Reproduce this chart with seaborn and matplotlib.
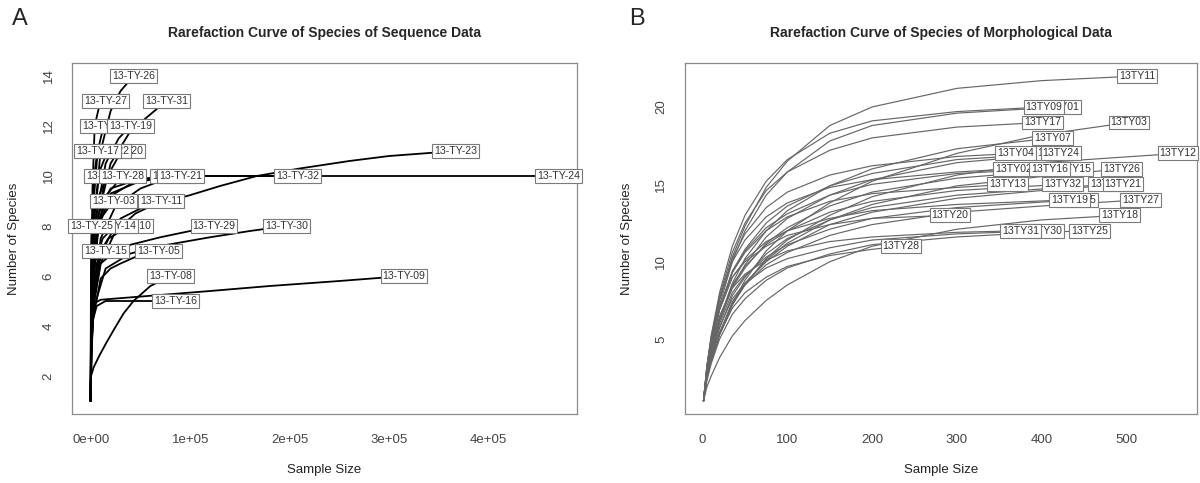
import matplotlib
matplotlib.use("Agg")
import matplotlib.pyplot as plt
import numpy as np
import pandas as pd
import seaborn as sns

# ---------------- Panel A: sequence data ----------------
seq_labels = ["13-TY-26", "13-TY-27", "13-TY-31", "13-TY-18", "13-TY-19",
              "13-TY-20", "13-TY-22", "13-TY-17", "13-TY-13", "13-TY-28",
              "13-TY-01", "13-TY-21", "13-TY-32", "13-TY-24", "13-TY-23",
              "13-TY-03", "13-TY-11", "13-TY-10", "13-TY-14", "13-TY-25",
              "13-TY-29", "13-TY-30", "13-TY-15", "13-TY-05", "13-TY-08",
              "13-TY-09", "13-TY-16"]
seq_sizes = [
    [1, 400, 1500, 4000, 10000, 20000, 30000, 43000],
    [1, 200, 700, 1800, 4000, 8000, 15000],
    [1, 600, 2500, 8000, 20000, 40000, 55000, 76000],
    [1, 300, 1200, 3000, 7000, 13000],
    [1, 500, 2000, 6000, 15000, 28000, 40000],
    [1, 500, 2000, 6000, 14000, 31000],
    [1, 300, 1200, 4000, 9000, 17000],
    [1, 150, 600, 1500, 3500, 6700],
    [1, 300, 1200, 4000, 9000, 17000],
    [1, 500, 2000, 6000, 15000, 32000],
    [1, 800, 3000, 10000, 25000, 50000, 83000],
    [1, 500, 2000, 8000, 20000, 45000, 90000],
    [1, 500, 2000, 8000, 20000, 50000, 100000, 208000],
    [1, 500, 2000, 8000, 20000, 50000, 100000, 470000],
    [1, 800, 3000, 10000, 30000, 60000, 97000, 130000, 167000, 210000,
     260000, 300000, 367000],
    [1, 300, 1200, 4000, 10000, 23000],
    [1, 800, 3000, 10000, 25000, 45000, 71000],
    [1, 500, 2000, 6000, 18000, 39000],
    [1, 300, 1200, 4000, 12000, 24000],
    [1, 40, 120, 300, 600, 1000],
    [1, 500, 2000, 10000, 25000, 40000, 70000, 124000],
    [1, 800, 3000, 15000, 40000, 70000, 120000, 160000, 197000],
    [1, 300, 1200, 4000, 9000, 15000],
    [1, 500, 2000, 10000, 20000, 30000, 47000, 68000],
    [1, 300, 3000, 8500, 16000, 24000, 33000, 43000, 60000, 80000],
    [1, 150, 800, 3000, 10000, 120000, 180000, 250000, 315000],
    [1, 100, 600, 2000, 6000, 15000, 85000],
]
seq_species = [
    [1, 3.5, 6, 8.5, 11, 12.6, 13.4, 14],
    [1, 3.5, 6.5, 9.5, 12, 12.7, 13],
    [1, 3.5, 5.8, 8.5, 10.5, 11.8, 12.3, 13],
    [1, 3.5, 6.5, 9, 11, 12],
    [1, 3.5, 5.8, 8.5, 10.5, 11.5, 12],
    [1, 3.2, 5.3, 8, 9.8, 11],
    [1, 3.5, 6, 8.5, 10.2, 11],
    [1, 3.5, 5.8, 8, 10, 11],
    [1, 3.2, 5.5, 8, 9.3, 10],
    [1, 3.2, 5.3, 7.8, 9.2, 10],
    [1, 3.2, 5.2, 7.5, 8.8, 9.5, 10],
    [1, 3.5, 5.6, 8, 9.2, 9.8, 10],
    [1, 3.5, 5.6, 8.2, 9.3, 9.8, 10, 10],
    [1, 3.8, 6, 8.5, 9.5, 9.9, 10, 10],
    [1, 3.2, 5, 7, 8.3, 8.9, 9.2, 9.6, 10, 10.3, 10.6, 10.8, 11],
    [1, 3, 5, 7, 8.3, 9],
    [1, 3, 4.8, 6.5, 7.8, 8.5, 9],
    [1, 3, 4.8, 6.5, 7.5, 8],
    [1, 3, 5, 6.5, 7.5, 8],
    [1, 2.5, 4.3, 6, 7.3, 8],
    [1, 3, 4.8, 6.5, 7.0, 7.25, 7.55, 8],
    [1, 3, 4.7, 6.3, 6.9, 7.2, 7.55, 7.8, 8],
    [1, 2.8, 4.3, 5.8, 6.6, 7],
    [1, 2.8, 4.2, 5.9, 6.3, 6.5, 6.8, 7],
    [1, 2, 2.35, 2.8, 3.35, 3.9, 4.5, 5.0, 5.6, 6],
    [1, 3, 4.3, 4.9, 5.05, 5.4, 5.6, 5.8, 6],
    [1, 2.5, 3.5, 4.2, 4.8, 5, 5],
]
seq_xticks = [0, 100000, 200000, 300000, 400000]
seq_xticklabels = ["0e+00", "1e+05", "2e+05", "3e+05", "4e+05"]
seq_yticks = [2, 4, 6, 8, 10, 12, 14]

# ---------------- Panel B: morphological data ----------------
mor_labels = ["13TY11", "13TY01", "13TY09", "13TY17", "13TY03", "13TY07",
              "13TY04", "13TY14", "13TY24", "13TY12", "13TY02", "13TY15",
              "13TY16", "13TY26", "13TY13", "13TY32", "13TY22", "13TY21",
              "13TY05", "13TY19", "13TY27", "13TY20", "13TY18", "13TY30",
              "13TY31", "13TY25", "13TY28"]
mor_sizes = [
    [1, 5, 10, 20, 35, 50, 75, 100, 150, 200, 300, 400, 513],
    [1, 5, 10, 20, 35, 50, 75, 100, 150, 200, 300, 422],
    [1, 5, 10, 20, 35, 50, 75, 100, 150, 200, 300, 403],
    [1, 5, 10, 20, 35, 50, 75, 100, 150, 200, 300, 401],
    [1, 5, 10, 20, 35, 50, 75, 100, 150, 200, 300, 400, 503],
    [1, 5, 10, 20, 35, 50, 75, 100, 150, 200, 300, 413],
    [1, 5, 10, 20, 35, 50, 75, 100, 150, 200, 300, 369],
    [1, 5, 10, 20, 35, 50, 75, 100, 150, 200, 300, 417],
    [1, 5, 10, 20, 35, 50, 75, 100, 150, 200, 300, 423],
    [1, 5, 10, 20, 35, 50, 75, 100, 150, 200, 300, 400, 561],
    [1, 5, 10, 20, 35, 50, 75, 100, 150, 200, 300, 367],
    [1, 5, 10, 20, 35, 50, 75, 100, 150, 200, 300, 437],
    [1, 5, 10, 20, 35, 50, 75, 100, 150, 200, 300, 409],
    [1, 5, 10, 20, 35, 50, 75, 100, 150, 200, 300, 400, 494],
    [1, 5, 10, 20, 35, 50, 75, 100, 150, 200, 300, 360],
    [1, 5, 10, 20, 35, 50, 75, 100, 150, 200, 300, 425],
    [1, 5, 10, 20, 35, 50, 75, 100, 150, 200, 300, 400, 479],
    [1, 5, 10, 20, 35, 50, 75, 100, 150, 200, 300, 400, 496],
    [1, 5, 10, 20, 35, 50, 75, 100, 150, 200, 300, 442],
    [1, 5, 10, 20, 35, 50, 75, 100, 150, 200, 300, 433],
    [1, 5, 10, 20, 35, 50, 75, 100, 150, 200, 300, 400, 517],
    [1, 5, 10, 20, 35, 50, 75, 100, 150, 200, 292],
    [1, 5, 10, 20, 35, 50, 75, 100, 150, 200, 300, 400, 492],
    [1, 5, 10, 20, 35, 50, 75, 100, 150, 200, 300, 403],
    [1, 5, 10, 20, 35, 50, 75, 100, 150, 200, 300, 375],
    [1, 5, 10, 20, 35, 50, 75, 100, 150, 200, 300, 400, 457],
    [1, 5, 10, 20, 35, 50, 75, 100, 150, 200, 234],
]
mor_species = [
    [1, 3, 4.8, 7.5, 10.3, 12.3, 14.8, 16.5, 18.8, 20, 21.2, 21.7, 22],
    [1, 3, 4.6, 7.2, 10, 12, 14.3, 15.8, 17.8, 18.8, 19.6, 20],
    [1, 3.2, 5.2, 8, 11, 13, 15.2, 16.6, 18.3, 19.1, 19.7, 20],
    [1, 3.2, 5, 7.8, 10.6, 12.5, 14.6, 15.8, 17.2, 18, 18.7, 19],
    [1, 2.5, 3.6, 5.3, 7.3, 8.8, 10.7, 12, 13.8, 15.2, 17, 18.2, 19],
    [1, 2.8, 4.2, 6.3, 8.6, 10.2, 12, 13.3, 14.9, 16, 17.3, 18],
    [1, 3.2, 5, 7.6, 10.2, 11.8, 13.5, 14.5, 15.6, 16.2, 16.8, 17],
    [1, 3, 4.6, 7, 9.4, 10.8, 12.5, 13.6, 14.9, 15.7, 16.6, 17],
    [1, 2.7, 4.1, 6.2, 8.4, 9.8, 11.6, 12.8, 14.3, 15.3, 16.4, 17],
    [1, 2.5, 3.6, 5.3, 7.2, 8.5, 10.2, 11.4, 13, 14.2, 15.6, 16.4, 17],
    [1, 3.3, 5.1, 7.6, 10, 11.4, 12.9, 13.8, 14.8, 15.3, 15.8, 16],
    [1, 2.7, 4.1, 6.2, 8.3, 9.6, 11.2, 12.2, 13.6, 14.5, 15.4, 16],
    [1, 3, 4.6, 7, 9.3, 10.7, 12.2, 13.1, 14.3, 15, 15.7, 16],
    [1, 2.5, 3.6, 5.3, 7.2, 8.6, 10.1, 11.2, 12.7, 13.7, 14.9, 15.5, 16],
    [1, 3, 4.6, 7, 9.3, 10.6, 12, 12.9, 13.9, 14.4, 14.8, 15],
    [1, 2.8, 4.2, 6.3, 8.5, 9.7, 11.1, 12, 13.2, 13.9, 14.6, 15],
    [1, 2.6, 3.8, 5.7, 7.8, 9, 10.5, 11.5, 12.7, 13.5, 14.3, 14.7, 15],
    [1, 2.5, 3.6, 5.4, 7.4, 8.6, 10, 11, 12.4, 13.2, 14.1, 14.6, 15],
    [1, 2.8, 4.1, 6, 8, 9.1, 10.3, 11.1, 12.1, 12.8, 13.5, 14],
    [1, 3, 4.6, 6.9, 9, 10.1, 11.3, 12, 12.8, 13.3, 13.7, 14],
    [1, 2.5, 3.6, 5.4, 7.3, 8.5, 9.8, 10.6, 11.7, 12.4, 13.2, 13.6, 14],
    [1, 3, 4.6, 6.9, 9, 10, 11, 11.7, 12.4, 12.8, 13],
    [1, 1.9, 2.6, 3.8, 5.2, 6.2, 7.5, 8.5, 10, 11, 12.1, 12.7, 13],
    [1, 2.6, 3.9, 5.8, 7.6, 8.6, 9.6, 10.2, 10.9, 11.4, 11.8, 12],
    [1, 2.9, 4.4, 6.5, 8.3, 9.2, 10.1, 10.7, 11.3, 11.6, 11.9, 12],
    [1, 2.3, 3.4, 5, 6.6, 7.6, 8.8, 9.6, 10.5, 11.1, 11.6, 11.9, 12],
    [1, 2.5, 3.6, 5.3, 7, 8, 9, 9.7, 10.4, 10.8, 11],
]
mor_xticks = [0, 100, 200, 300, 400, 500]
mor_yticks = [5, 10, 15, 20]


def to_frame(labels, sizes, species):
    rows = []
    for lab, xs, ys in zip(labels, sizes, species):
        for i, (x, y) in enumerate(zip(xs, ys)):
            rows.append({"sample": lab, "step": i, "size": x, "species": y})
    return pd.DataFrame(rows)


sns.set_style("white")
plt.rcParams["font.family"] = ["Liberation Sans", "DejaVu Sans"]

W, H = 1200, 483
fig = plt.figure(figsize=(W / 100, H / 100), dpi=100)
axA = fig.add_axes([72 / W, (H - 414) / H, 505 / W, 351 / H])
axB = fig.add_axes([684.5 / W, (H - 414) / H, 512.5 / W, 351 / H])

frame_col = "#8a8a8a"
tick_col = "#444444"
box_style = dict(boxstyle="square,pad=0.18", fc="white", ec="#7a7a7a", lw=0.8)


def style_axes(ax):
    for s in ax.spines.values():
        s.set_visible(True)
        s.set_color(frame_col)
        s.set_linewidth(0.9)
    ax.tick_params(axis="both", direction="out", length=6.5, width=0.8,
                   color="#666666", labelsize=9.5, labelcolor=tick_col, pad=6)
    ax.tick_params(axis="x", pad=8)
    ax.set_xlabel("")
    ax.set_ylabel("")
    ax.grid(False)


# Panel A
dfA = to_frame(seq_labels, seq_sizes, seq_species)
sns.lineplot(data=dfA, x="size", y="species", units="sample", estimator=None,
             sort=False, color="black", linewidth=1.3, legend=False, ax=axA)
nmaxA = max(max(s) for s in seq_sizes)
axA.set_xlim(-0.04 * nmaxA, 1.04 * nmaxA)
axA.set_ylim(1 - 0.04 * 13, 14 + 0.04 * 13)
axA.set_xticks(seq_xticks)
axA.set_xticklabels(seq_xticklabels)
axA.set_yticks(seq_yticks)
style_axes(axA)
for lbl in axA.get_yticklabels():
    lbl.set_rotation(90)
    lbl.set_va("center")
for k, (lab, xs, ys) in enumerate(zip(seq_labels, seq_sizes, seq_species)):
    axA.text(xs[-1], ys[-1], lab, ha="center", va="center", fontsize=7.6,
             color="#333333", bbox=box_style, zorder=10 + k, clip_on=False)

# Panel B
dfB = to_frame(mor_labels, mor_sizes, mor_species)
sns.lineplot(data=dfB, x="size", y="species", units="sample", estimator=None,
             sort=False, color="#666666", linewidth=0.85, legend=False, ax=axB)
nmaxB = max(max(s) for s in mor_sizes)
axB.set_xlim(1 - 0.04 * (nmaxB - 1), nmaxB + 0.04 * (nmaxB - 1))
axB.set_ylim(1 - 0.04 * 21, 22 + 0.04 * 21)
axB.set_xticks(mor_xticks)
axB.set_yticks(mor_yticks)
style_axes(axB)
for lbl in axB.get_yticklabels():
    lbl.set_rotation(90)
    lbl.set_va("center")
for k, (lab, xs, ys) in enumerate(zip(mor_labels, mor_sizes, mor_species)):
    axB.text(xs[-1], ys[-1], lab, ha="center", va="center", fontsize=7.6,
             color="#333333", bbox=box_style, zorder=10 + k, clip_on=False)

# Titles, axis labels, panel letters
fig.text(324.5 / W, 1 - 33 / H, "Rarefaction Curve of Species of Sequence Data",
         ha="center", va="center", fontsize=10, fontweight="bold")
fig.text(940.7 / W, 1 - 33 / H, "Rarefaction Curve of Species of Morphological Data",
         ha="center", va="center", fontsize=10, fontweight="bold")
fig.text(324.5 / W, 1 - 470 / H, "Sample Size", ha="center", va="center",
         fontsize=9.5, color="#222222")
fig.text(940.7 / W, 1 - 470 / H, "Sample Size", ha="center", va="center",
         fontsize=9.5, color="#222222")
fig.text(14 / W, 1 - 238.5 / H, "Number of Species", ha="center", va="center",
         rotation=90, fontsize=9.5, color="#222222")
fig.text(627 / W, 1 - 238.5 / H, "Number of Species", ha="center", va="center",
         rotation=90, fontsize=9.5, color="#222222")
fig.text(20 / W, 1 - 19 / H, "A", ha="center", va="center", fontsize=17)
fig.text(637 / W, 1 - 19 / H, "B", ha="center", va="center", fontsize=17)

fig.savefig("out.png", dpi=100)
